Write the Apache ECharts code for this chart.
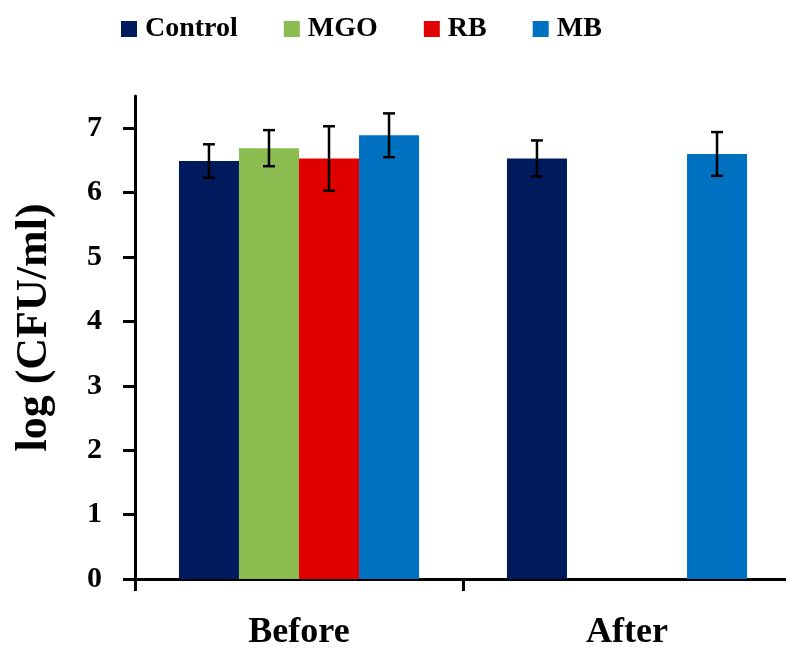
<!DOCTYPE html>
<html>
<head>
<meta charset="utf-8">
<script src="https://cdn.jsdelivr.net/npm/echarts@6/dist/echarts.min.js"></script>
<style>
  html, body { margin: 0; padding: 0; background: #fff; }
  #chart { width: 786px; height: 648px; }
</style>
</head>
<body>
<div id="chart"></div>
<script>
// data
const categories = ['Before', 'After']
const yTicks = [0, 1, 2, 3, 4, 5, 6, 7]

const control = [6.49, 6.53]
const controlErr = [0.26, 0.28]
const mgo = [6.69, null]
const mgoErr = [0.28, null]
const rb = [6.53, null]
const rbErr = [0.5, null]
const mb = [6.89, 6.60]
const mbErr = [0.34, 0.34]

const FONT = '"Liberation Serif", "Times New Roman", serif'
const BAR_PCT = 0.183

const groups = [
  { name: 'Control', color: '#001a5e', values: control, errs: controlErr },
  { name: 'MGO', color: '#8cbc50', values: mgo, errs: mgoErr },
  { name: 'RB', color: '#e00000', values: rb, errs: rbErr },
  { name: 'MB', color: '#0070c0', values: mb, errs: mbErr }
]

const chart = echarts.init(document.getElementById('chart'))

const barSeries = groups.map(g => ({
  name: g.name,
  type: 'bar',
  data: g.values,
  barWidth: (BAR_PCT * 100) + '%',
  barGap: '0%',
  itemStyle: { color: g.color },
  emphasis: { disabled: true }
}))

const errSeries = groups.map((g, k) => ({
  type: 'custom',
  name: g.name + ' err',
  z: 5,
  data: g.values
    .map((v, i) => (v == null ? null : [i, v, g.errs[i]]))
    .filter(d => d),
  renderItem: (params, api) => {
    const x = api.value(0)
    const v = api.value(1)
    const e = api.value(2)
    const band = api.size([1, 0])[0]
    const off = band * BAR_PCT * (k - 1.5)
    const hi = api.coord([x, v + e])
    const lo = api.coord([x, v - e])
    const cx = hi[0] + off
    const cap = 6
    const style = { stroke: '#000', lineWidth: 2.5 }
    return {
      type: 'group',
      children: [
        { type: 'line', shape: { x1: cx, y1: hi[1], x2: cx, y2: lo[1] }, style },
        { type: 'line', shape: { x1: cx - cap, y1: hi[1], x2: cx + cap, y2: hi[1] }, style },
        { type: 'line', shape: { x1: cx - cap, y1: lo[1], x2: cx + cap, y2: lo[1] }, style }
      ]
    }
  }
}))

const option = {
  animation: false,
  legend: {
    data: groups.map(g => g.name),
    left: 116,
    top: 10,
    icon: 'rect',
    itemWidth: 16,
    itemHeight: 16,
    itemGap: 46,
    textStyle: { fontFamily: FONT, fontWeight: 'bold', fontSize: 28, color: '#000', padding: [0, 0, 0, 3] }
  },
  grid: { left: 135, width: 656, top: 96, bottom: 69, outerBoundsMode: 'none' },
  xAxis: {
    type: 'category',
    data: categories,
    axisLine: { lineStyle: { color: '#000', width: 3 } },
    axisTick: { show: true, length: 12, lineStyle: { color: '#000', width: 3 } },
    axisLabel: { fontFamily: FONT, fontWeight: 'bold', fontSize: 36, color: '#000', margin: 36 }
  },
  yAxis: {
    type: 'value',
    min: 0,
    max: 7.5,
    interval: 1,
    name: 'log (CFU/ml)',
    nameLocation: 'middle',
    nameGap: 78,
    nameTextStyle: { fontFamily: FONT, fontWeight: 'bold', fontSize: 44, color: '#000', padding: [0, 0, 0, 20] },
    axisLine: { show: true, lineStyle: { color: '#000', width: 3 } },
    axisTick: { show: true, length: 12, customValues: yTicks, lineStyle: { color: '#000', width: 3 } },
    axisLabel: { customValues: yTicks, fontFamily: FONT, fontWeight: 'bold', fontSize: 30, color: '#000', margin: 33 },
    splitLine: { show: false }
  },
  series: [...barSeries, ...errSeries]
}

chart.setOption(option)
window.addEventListener('resize', () => chart.resize())
</script>
</body>
</html>
